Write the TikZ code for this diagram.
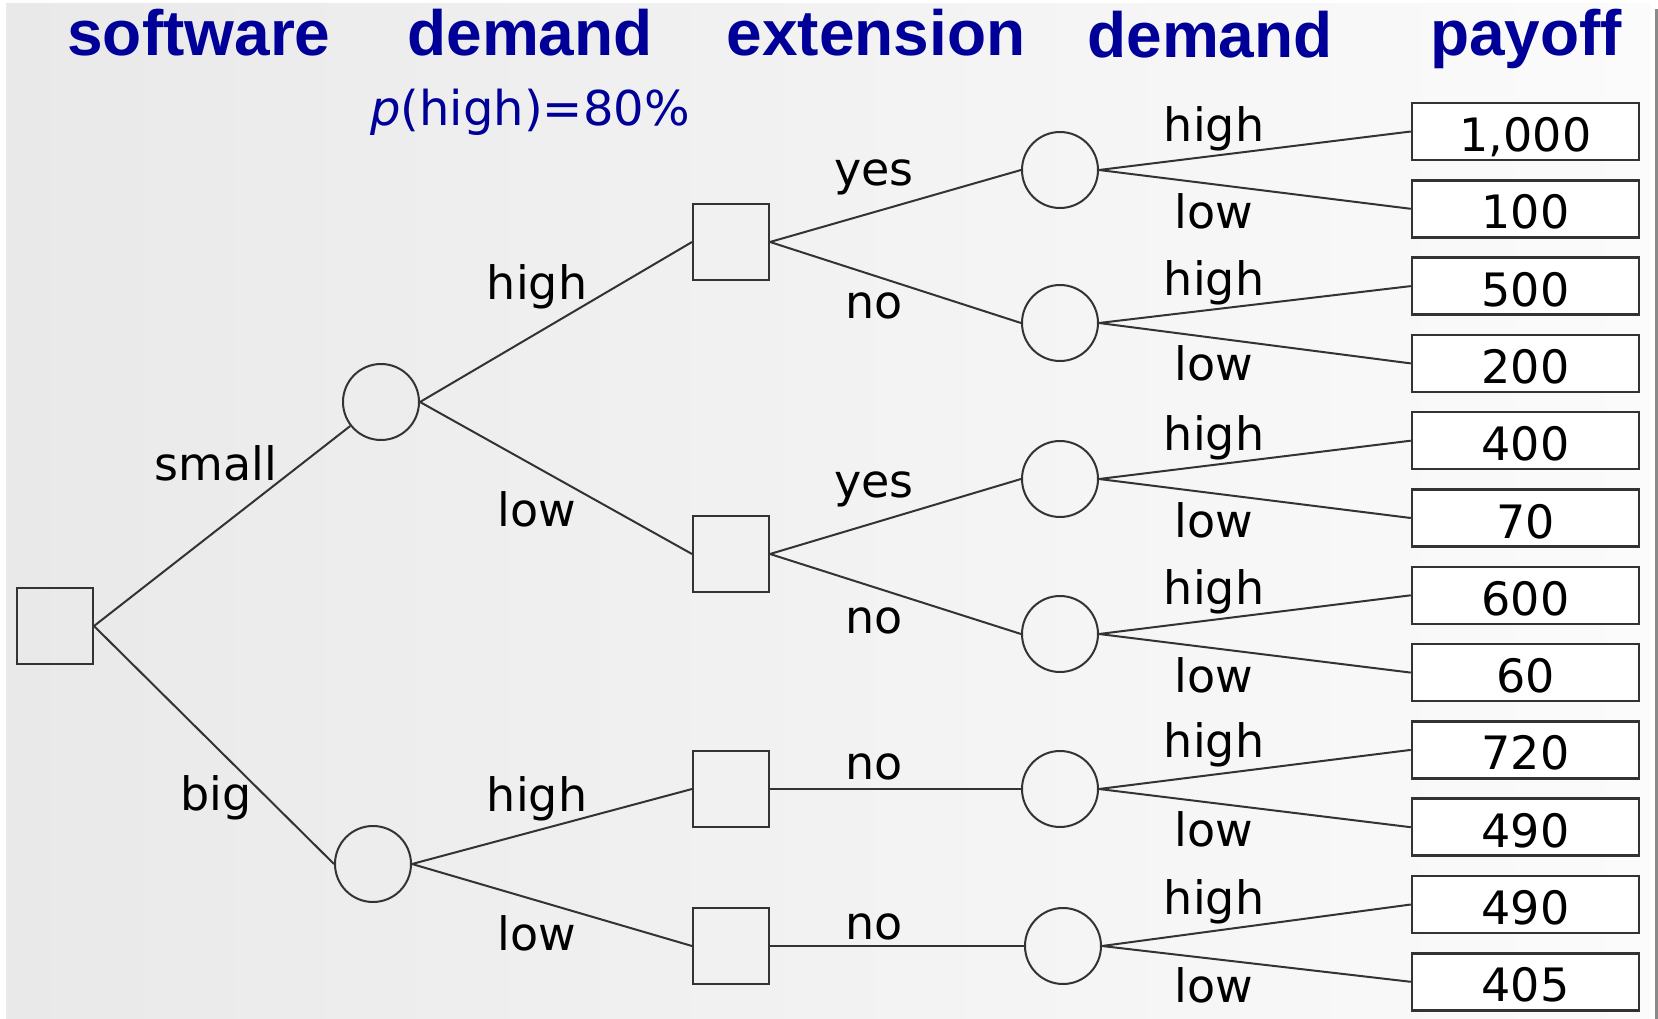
\documentclass[tikz,border=0pt]{standalone}
\usepackage{fontspec}
\setmainfont{DejaVu Sans}
\newfontfamily\hdrfamily{Liberation Sans}
\definecolor{navy}{RGB}{0,0,153}
\definecolor{linec}{RGB}{51,51,51}
\definecolor{bgleft}{RGB}{233,233,233}
\definecolor{bgright}{RGB}{251,251,251}
\definecolor{barc}{RGB}{138,138,138}
\newcommand{\labfont}{\fontsize{46}{54}\selectfont}
\newcommand{\phfont}{\fontsize{48}{56}\selectfont}
\newcommand{\hdrfont}{\hdrfamily\bfseries\fontsize{64}{72}\selectfont}
\begin{document}
\begin{tikzpicture}[x=1pt,y=-1pt,
  dec/.style={draw=linec, line width=2pt, rectangle, minimum size=76pt, inner sep=0pt},
  chance/.style={draw=linec, line width=2pt, circle, minimum size=76pt, inner sep=0pt},
  pay/.style={draw=linec, line width=2.5pt, fill=white, rectangle, minimum width=227pt, minimum height=57pt, inner sep=0pt, text height=40pt, text depth=0pt, font=\labfont},
  lbl/.style={font=\labfont, inner sep=0pt, text=black},
  hdr/.style={font=\hdrfont, text=navy, anchor=base, inner sep=0pt},
  edge/.style={draw=linec, line width=2pt}]
\useasboundingbox (0,0) rectangle (1658,1019);
\fill[white] (0,0) rectangle (1658,1019);
\shade[left color=bgleft, right color=bgright] (6,4) rectangle (1650,1019);
\fill[barc] (1655,9) rectangle (1658,1019);

% headers
\node[hdr] (h1) at (199,56) {software};
\node[hdr] (h2) at (530,56) {demand};
\node[hdr] (h3) at (876,56) {extension};
\node[hdr] (h4) at (1210,58) {demand};
\node[hdr] (h5) at (1526,56) {payoff};
\node[font=\phfont, inner sep=0pt, text=navy] (ph) at (530,112) {\textit{p}(high)=80\%};

% nodes
\node[dec] (r) at (55,626) {};
\node[chance] (c1) at (381,402) {};
\node[chance] (c2) at (373,864) {};
\node[dec] (s1) at (731,242) {};
\node[dec] (s2) at (731,554) {};
\node[dec] (s3) at (731,789) {};
\node[dec] (s4) at (731,946) {};
\node[chance] (d1) at (1060,170) {};
\node[chance] (d2) at (1060,323) {};
\node[chance] (d3) at (1060,479) {};
\node[chance] (d4) at (1060,634) {};
\node[chance] (d5) at (1060,789) {};
\node[chance] (d6) at (1063,946) {};

\node[pay] (p1) at (1525.5,131.5) {1,000};
\node[pay] (p2) at (1525.5,208.8) {100};
\node[pay] (p3) at (1525.5,286.1) {500};
\node[pay] (p4) at (1525.5,363.4) {200};
\node[pay] (p5) at (1525.5,440.7) {400};
\node[pay] (p6) at (1525.5,518.0) {70};
\node[pay] (p7) at (1525.5,595.3) {600};
\node[pay] (p8) at (1525.5,672.6) {60};
\node[pay] (p9) at (1525.5,749.9) {720};
\node[pay] (p10) at (1525.5,827.2) {490};
\node[pay] (p11) at (1525.5,904.5) {490};
\node[pay] (p12) at (1525.5,981.8) {405};

% edges
\draw[edge] (r.east) -- (c1);
\draw[edge] (r.east) -- (c2.west);
\draw[edge] (c1.east) -- (s1.west);
\draw[edge] (c1.east) -- (s2.west);
\draw[edge] (c2.east) -- (s3.west);
\draw[edge] (c2.east) -- (s4.west);
\draw[edge] (s1.east) -- (d1.west);
\draw[edge] (s1.east) -- (d2.west);
\draw[edge] (s2.east) -- (d3.west);
\draw[edge] (s2.east) -- (d4.west);
\draw[edge] (s3.east) -- (d5.west);
\draw[edge] (s4.east) -- (d6.west);
\draw[edge] (d1.east) -- (p1.west);
\draw[edge] (d1.east) -- (p2.west);
\draw[edge] (d2.east) -- (p3.west);
\draw[edge] (d2.east) -- (p4.west);
\draw[edge] (d3.east) -- (p5.west);
\draw[edge] (d3.east) -- (p6.west);
\draw[edge] (d4.east) -- (p7.west);
\draw[edge] (d4.east) -- (p8.west);
\draw[edge] (d5.east) -- (p9.west);
\draw[edge] (d5.east) -- (p10.west);
\draw[edge] (d6.east) -- (p11.west);
\draw[edge] (d6.east) -- (p12.west);

% labels
\node[lbl] (lsmall) at (216,463) {small};
\node[lbl] (lbig) at (216,798) {big};
\node[lbl] (lh1) at (537,287) {high};
\node[lbl] (ll1) at (537,509) {low};
\node[lbl] (lh2) at (537,799) {high};
\node[lbl] (ll2) at (537,933) {low};
\node[lbl] (ly1) at (874,177) {yes};
\node[lbl] (ln1) at (874,306) {no};
\node[lbl] (ly2) at (874,489) {yes};
\node[lbl] (ln2) at (874,621) {no};
\node[lbl] (ln3) at (874,767) {no};
\node[lbl] (ln4) at (874,927) {no};
\node[lbl] (rh1) at (1214,129) {high};
\node[lbl] (rl1) at (1214,211) {low};
\node[lbl] (rh2) at (1214,283) {high};
\node[lbl] (rl2) at (1214,363) {low};
\node[lbl] (rh3) at (1214,438) {high};
\node[lbl] (rl3) at (1214,520) {low};
\node[lbl] (rh4) at (1214,592) {high};
\node[lbl] (rl4) at (1214,675) {low};
\node[lbl] (rh5) at (1214,745) {high};
\node[lbl] (rl5) at (1214,829) {low};
\node[lbl] (rh6) at (1214,902) {high};
\node[lbl] (rl6) at (1214,985) {low};
\end{tikzpicture}
\end{document}
